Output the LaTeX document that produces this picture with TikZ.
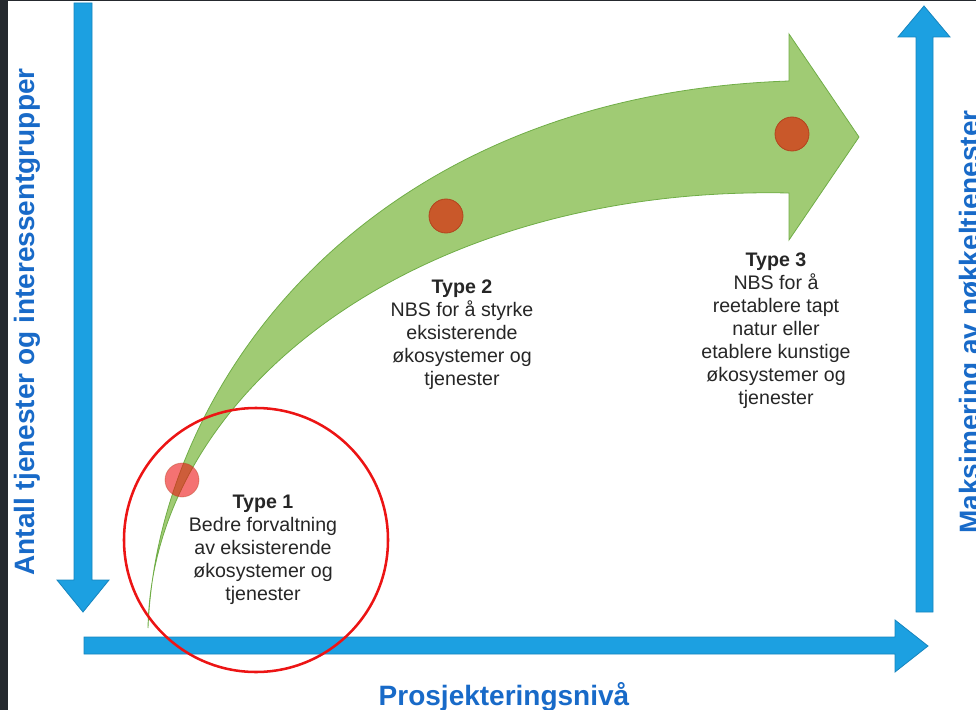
\documentclass[tikz,border=0pt]{standalone}
\usepackage{fontspec}
\setmainfont{Liberation Sans}

\definecolor{frame}{RGB}{37,41,46}
\definecolor{axisfill}{RGB}{28,160,225}
\definecolor{axisedge}{RGB}{22,132,190}
\definecolor{labelblue}{RGB}{24,106,200}
\definecolor{leafgreen}{RGB}{160,203,116}
\definecolor{leafedge}{RGB}{112,173,71}
\definecolor{dotfill}{RGB}{201,88,42}
\definecolor{dotedge}{RGB}{178,68,30}
\definecolor{ringred}{RGB}{236,20,20}
\definecolor{typegray}{RGB}{38,38,38}

\begin{document}
\begin{tikzpicture}[x=0.75pt, y=-0.75pt,
    axisarrow/.style={fill=axisfill, draw=axisedge, line width=0.6pt},
    axislabel/.style={text=labelblue, inner sep=0pt, anchor=base,
      font=\fontsize{21}{24}\selectfont\bfseries},
    typetext/.style={text=typegray, align=center, anchor=north, inner sep=0pt,
      font=\fontsize{14.7}{17.25}\selectfont},
    dot/.style={circle, minimum size=25.5pt, inner sep=0pt,
      fill=dotfill, draw=dotedge, line width=0.6pt}]
  \useasboundingbox (0,0) rectangle (976,710);
  % screen edge
  \fill[frame] (0,0) rectangle (8,710);
  \fill[frame] (0,0) rectangle (976,1.5);
  % axes
  \filldraw[axisarrow] (74,3) -- (92,3) -- (92,580) -- (109,580) -- (83,612)
    -- (57,580) -- (74,580) -- cycle;
  \filldraw[axisarrow] (916,612) -- (933,612) -- (933,37) -- (950,37) -- (924,6)
    -- (898,37) -- (916,37) -- cycle;
  \filldraw[axisarrow] (84,637) -- (895,637) -- (895,620) -- (928,646)
    -- (895,672) -- (895,654) -- (84,654) -- cycle;
  \node[axislabel, rotate=90] (ylabelL) at (35,322) {Antall tjenester og interessentgrupper};
  \node[axislabel, rotate=90] (ylabelR) at (979,322) {Maksimering av nøkkeltjenester};
  \node[axislabel] (xlabel) at (504,705) {Prosjekteringsnivå};
  % curved arrow
  \filldraw[fill=leafgreen, draw=leafedge, line width=0.6pt]
    (148,628) .. controls (158,380) and (370,95) .. (789,81)
    -- (789,34) -- (859,137) -- (789,240) -- (789,193)
    .. controls (420,185) and (152,390) .. (148,628) -- cycle;
  % project types
  \node[dot, fill=ringred, fill opacity=0.6, draw opacity=0.4] (dot1) at (182,480) {};
  \node[dot] (dot2) at (446,216) {};
  \node[dot] (dot3) at (792,134) {};
  \draw[ringred, line width=1.9pt] (256,540) circle [radius=132];
  \node[typetext] (type1) at (263,495)
    {\textbf{Type 1}\\Bedre forvaltning\\av eksisterende\\økosystemer og\\tjenester};
  \node[typetext] (type2) at (462,280)
    {\textbf{Type 2}\\NBS for å styrke\\eksisterende\\økosystemer og\\tjenester};
  \node[typetext] (type3) at (776,253)
    {\textbf{Type 3}\\NBS for å\\reetablere tapt\\natur eller\\etablere kunstige\\økosystemer og\\tjenester};
\end{tikzpicture}
\end{document}
